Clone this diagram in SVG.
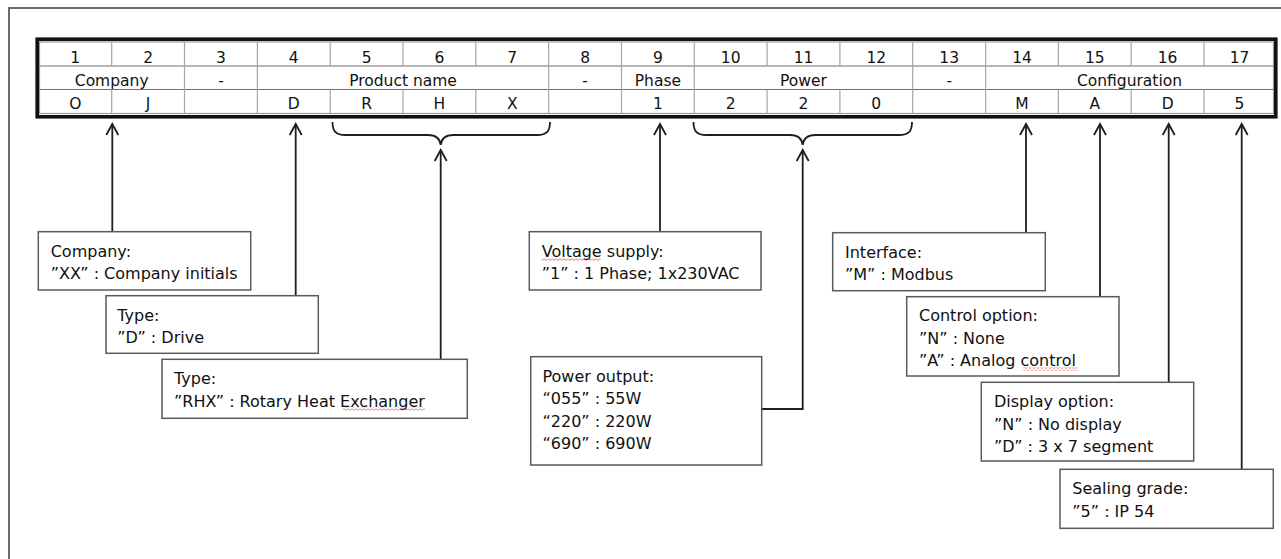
<svg xmlns="http://www.w3.org/2000/svg" width="1281" height="559" viewBox="0 0 1281 559">
<style>
text{font-family:"DejaVu Sans","Verdana",sans-serif;fill:#111}
.t{font-size:15.5px;text-anchor:middle}
.b{font-size:16px}
.box{fill:#fff;stroke:#5a5a5a;stroke-width:1.5}
.v{stroke:#a6a6a6;stroke-width:1.2}
.h{stroke:#707070;stroke-width:1.2}
.c{fill:none;stroke:#1e1e1e;stroke-width:1.8}
.sq{fill:url(#sq)}
</style>
<defs>
<marker id="ah" markerUnits="userSpaceOnUse" markerWidth="16" markerHeight="16" viewBox="-13 -8 16 16" refX="0" refY="0" orient="auto">
<path d="M-11,-6 L0,0 L-11,6" fill="none" stroke="#1e1e1e" stroke-width="1.8"/>
</marker>
<pattern id="sq" width="4" height="3" patternUnits="userSpaceOnUse">
<path d="M0,0.5 L2,2.5 L4,0.5" fill="none" stroke="#e03030" stroke-width="0.8"/>
</pattern>
</defs>
<rect width="1281" height="559" fill="#fff"/>
<path d="M9,559 L9,8 L1281,8" fill="none" stroke="#6b6b6b" stroke-width="2"/>

<g id="table">
<rect x="39.5" y="42" width="1234" height="71.5" fill="#fff" stroke="#9a9a9a" stroke-width="1.2"/>
<line class="h" x1="39.5" y1="66" x2="1273.5" y2="66"/>
<line class="h" x1="39.5" y1="89.5" x2="1273.5" y2="89.5"/>
<g class="v">
<line x1="111.7" y1="42" x2="111.7" y2="66"/><line x1="111.7" y1="89.5" x2="111.7" y2="113.5"/>
<line x1="184.5" y1="42" x2="184.5" y2="113.5"/>
<line x1="257.4" y1="42" x2="257.4" y2="113.5"/>
<line x1="330.2" y1="42" x2="330.2" y2="66"/><line x1="330.2" y1="89.5" x2="330.2" y2="113.5"/>
<line x1="403.0" y1="42" x2="403.0" y2="66"/><line x1="403.0" y1="89.5" x2="403.0" y2="113.5"/>
<line x1="475.8" y1="42" x2="475.8" y2="66"/><line x1="475.8" y1="89.5" x2="475.8" y2="113.5"/>
<line x1="548.6" y1="42" x2="548.6" y2="113.5"/>
<line x1="621.5" y1="42" x2="621.5" y2="113.5"/>
<line x1="694.3" y1="42" x2="694.3" y2="113.5"/>
<line x1="767.1" y1="42" x2="767.1" y2="66"/><line x1="767.1" y1="89.5" x2="767.1" y2="113.5"/>
<line x1="839.9" y1="42" x2="839.9" y2="66"/><line x1="839.9" y1="89.5" x2="839.9" y2="113.5"/>
<line x1="912.7" y1="42" x2="912.7" y2="113.5"/>
<line x1="985.6" y1="42" x2="985.6" y2="113.5"/>
<line x1="1058.4" y1="42" x2="1058.4" y2="66"/><line x1="1058.4" y1="89.5" x2="1058.4" y2="113.5"/>
<line x1="1131.2" y1="42" x2="1131.2" y2="66"/><line x1="1131.2" y1="89.5" x2="1131.2" y2="113.5"/>
<line x1="1204.0" y1="42" x2="1204.0" y2="66"/><line x1="1204.0" y1="89.5" x2="1204.0" y2="113.5"/>
</g>
<rect x="37.2" y="39.2" width="1238.6" height="77.6" fill="none" stroke="#111" stroke-width="3.6"/>
<g class="t">
<text x="75.3" y="62.5">1</text><text x="148.1" y="62.5">2</text><text x="221.0" y="62.5">3</text><text x="293.8" y="62.5">4</text>
<text x="366.6" y="62.5">5</text><text x="439.4" y="62.5">6</text><text x="512.2" y="62.5">7</text><text x="585.1" y="62.5">8</text>
<text x="657.9" y="62.5">9</text><text x="730.7" y="62.5">10</text><text x="803.5" y="62.5">11</text><text x="876.3" y="62.5">12</text>
<text x="949.2" y="62.5">13</text><text x="1022.0" y="62.5">14</text><text x="1094.8" y="62.5">15</text><text x="1167.6" y="62.5">16</text>
<text x="1239.5" y="62.5">17</text>
<text x="111.7" y="85.7">Company</text><text x="221.0" y="85.7">-</text><text x="403.0" y="85.7">Product name</text>
<text x="585.1" y="85.7">-</text><text x="657.9" y="85.7">Phase</text><text x="803.5" y="85.7">Power</text>
<text x="949.2" y="85.7">-</text><text x="1129.5" y="85.7">Configuration</text>
<text x="75.3" y="109.2">O</text><text x="148.1" y="109.2">J</text><text x="293.8" y="109.2">D</text>
<text x="366.6" y="109.2">R</text><text x="439.4" y="109.2">H</text><text x="512.2" y="109.2">X</text>
<text x="657.9" y="109.2">1</text><text x="730.7" y="109.2">2</text><text x="803.5" y="109.2">2</text><text x="876.3" y="109.2">0</text>
<text x="1022.0" y="109.2">M</text><text x="1094.8" y="109.2">A</text><text x="1167.6" y="109.2">D</text><text x="1239.5" y="109.2">5</text>
</g>
</g>

<g id="connectors">
<path class="c" d="M332.5,122 C332.5,131 335.5,135 345.5,135 L428,135 C436,135 440,139 440.7,145 C441.4,139 445.4,135 453.4,135 L537,135 C547,135 550,131 550,122"/>
<path class="c" d="M693.5,122 C693.5,131 696.5,135 706.5,135 L790,135 C798,135 802,139 802.7,145 C803.4,139 807.4,135 815.4,135 L899,135 C909,135 912,131 912,122"/>
<line class="c" x1="112.3" y1="231.7" x2="112.3" y2="124" marker-end="url(#ah)"/>
<line class="c" x1="295.7" y1="295.7" x2="295.7" y2="124" marker-end="url(#ah)"/>
<line class="c" x1="440.7" y1="359.3" x2="440.7" y2="150" marker-end="url(#ah)"/>
<line class="c" x1="660" y1="231.7" x2="660" y2="124" marker-end="url(#ah)"/>
<polyline class="c" points="761.7,409 802.7,409 802.7,150" marker-end="url(#ah)"/>
<line class="c" x1="1026" y1="232.7" x2="1026" y2="124" marker-end="url(#ah)"/>
<line class="c" x1="1100" y1="296.7" x2="1100" y2="124" marker-end="url(#ah)"/>
<line class="c" x1="1168.7" y1="382.3" x2="1168.7" y2="124" marker-end="url(#ah)"/>
<line class="c" x1="1241.7" y1="469.3" x2="1241.7" y2="124" marker-end="url(#ah)"/>
</g>

<g id="company">
<rect class="box" x="38.3" y="231.7" width="212.4" height="58.3"/>
<text class="b" x="50.7" y="256.5">Company:</text>
<text class="b" x="50.7" y="279">”XX” : Company initials</text>
</g>
<g id="type-d">
<rect class="box" x="106" y="295.7" width="212.3" height="57.6"/>
<text class="b" x="117.3" y="320.5">Type:</text>
<text class="b" x="117.3" y="343">”D” : Drive</text>
</g>
<g id="type-rhx">
<rect class="box" x="162" y="359.3" width="305.3" height="59"/>
<text class="b" x="174" y="384">Type:</text>
<text class="b" x="174" y="406.5">”RHX” : Rotary Heat Exchanger</text>
<rect class="sq" x="343" y="407.5" width="82" height="3"/>
</g>
<g id="voltage">
<rect class="box" x="529.3" y="231.7" width="231.7" height="58.3"/>
<text class="b" x="541.7" y="256.5">Voltage supply:</text>
<text class="b" x="541.7" y="279">”1” : 1 Phase; 1x230VAC</text>
<rect class="sq" x="541.7" y="258" width="59" height="3"/>
</g>
<g id="power">
<rect class="box" x="530.7" y="356.7" width="231" height="108.3"/>
<text class="b" x="542.5" y="381.7">Power output:</text>
<text class="b" x="542.5" y="404.2">“055” : 55W</text>
<text class="b" x="542.5" y="426.6">“220” : 220W</text>
<text class="b" x="542.5" y="449">“690” : 690W</text>
</g>
<g id="interface">
<rect class="box" x="832.7" y="232.7" width="212.6" height="58"/>
<text class="b" x="845" y="257.5">Interface:</text>
<text class="b" x="845" y="280">”M” : Modbus</text>
</g>
<g id="control">
<rect class="box" x="906.7" y="296.7" width="212.3" height="79.3"/>
<text class="b" x="919" y="321.3">Control option:</text>
<text class="b" x="919" y="343.8">”N” : None</text>
<text class="b" x="919" y="366.2">”A” : Analog control</text>
<rect class="sq" x="1023" y="367.5" width="55" height="3"/>
</g>
<g id="display">
<rect class="box" x="981.3" y="382.3" width="212.4" height="78.7"/>
<text class="b" x="994" y="407">Display option:</text>
<text class="b" x="994" y="429.5">”N” : No display</text>
<text class="b" x="994" y="452">”D” : 3 x 7 segment</text>
</g>
<g id="sealing">
<rect class="box" x="1060" y="469.3" width="213.3" height="59"/>
<text class="b" x="1072.3" y="494">Sealing grade:</text>
<text class="b" x="1072.3" y="516.5">”5” : IP 54</text>
</g>
</svg>
